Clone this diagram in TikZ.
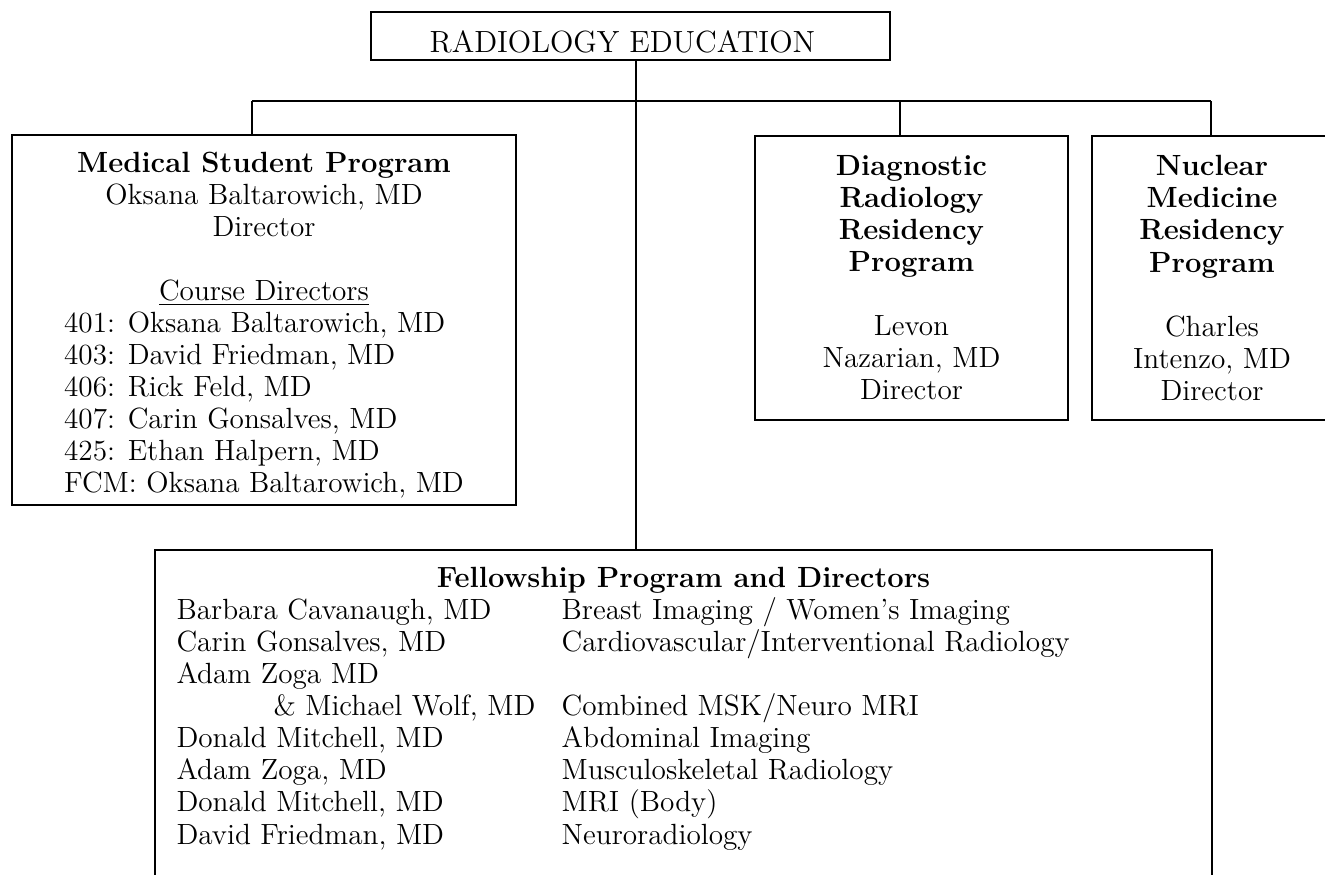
\documentclass[tikz,border=0pt]{standalone}
\usetikzlibrary{positioning}

\tikzset{
  orgbox/.style={draw,line width=0.85pt,inner sep=0pt,align=center,
    font=\fontsize{12.6}{13.8}\selectfont},
  orgline/.style={line width=0.7pt}
}

\begin{document}
\begin{tikzpicture}[x=0.431pt,y=-0.431pt]
\useasboundingbox (0,0) rectangle (1325,874);
\clip (0,0) rectangle (1325,874);

% top of the chart
\node[orgbox,minimum width=223.7pt,minimum height=20.7pt,text height=16pt,text depth=2.2pt,
  font=\fontsize{13.2}{14.4}\selectfont] (educ) at (630.5,36)
  {RADIOLOGY EDUCATION\hspace*{7pt}};

% programs
\node[orgbox,minimum width=217.2pt,minimum height=159.5pt] (medical) at (264,320)
  {\rule{0pt}{14.6pt}\textbf{Medical Student Program}\\
   Oksana Baltarowich, MD\\
   Director\\[13.8pt]
   \underline{Course Directors}\\
   \begin{tabular}[t]{@{}l@{}}
   401: Oksana Baltarowich, MD\\
   403: David Friedman, MD\\
   406: Rick Feld, MD\\
   407: Carin Gonsalves, MD\\
   425: Ethan Halpern, MD\\
   FCM: Oksana Baltarowich, MD
   \end{tabular}};
\node[orgbox,minimum width=134.9pt,minimum height=122.4pt] (diag) at (911.5,278)
  {\textbf{Diagnostic}\\ \textbf{Radiology}\\ \textbf{Residency}\\ \textbf{Program}\\[13.8pt]
   Levon\\ Nazarian, MD\\ Director};
\node[orgbox,minimum width=103.4pt,minimum height=122.4pt] (nuclear) at (1212,278)
  {\textbf{Nuclear}\\ \textbf{Medicine}\\ \textbf{Residency}\\ \textbf{Program}\\[13.8pt]
   Charles\\ Intenzo, MD\\ Director};

% fellowships
\node[orgbox,minimum width=455.6pt,minimum height=150.9pt] (fell) at (683.5,725) {};
\node[below=6.9pt of fell.north,inner sep=0pt,font=\fontsize{12.6}{13.8}\selectfont] (fellinfo)
  {\begin{tabular}{@{}p{166pt}@{}p{271pt}@{}}
   \multicolumn{2}{c}{\textbf{Fellowship Program and Directors}}\\
   Barbara Cavanaugh, MD & Breast Imaging / Women's Imaging\\
   Carin Gonsalves, MD & Cardiovascular/Interventional Radiology\\
   Adam Zoga MD & \\
   \hspace*{41.8pt}\& Michael Wolf, MD & Combined MSK/Neuro MRI\\
   Donald Mitchell, MD & Abdominal Imaging\\
   Adam Zoga, MD & Musculoskeletal Radiology\\
   Donald Mitchell, MD & MRI (Body)\\
   David Friedman, MD & Neuroradiology
   \end{tabular}};

% connectors
\coordinate (bus) at (636,101);
\coordinate (mdrop) at (252,101);
\coordinate (ddrop) at (900,101);
\coordinate (ndrop) at (1211,101);
\draw[orgline] (mdrop) -- (ndrop);
\draw[orgline] (educ.south -| bus) -- (fell.north -| bus);
\draw[orgline] (mdrop) -- (medical.north -| mdrop);
\draw[orgline] (ddrop) -- (diag.north -| ddrop);
\draw[orgline] (ndrop) -- (nuclear.north -| ndrop);
\end{tikzpicture}
\end{document}
